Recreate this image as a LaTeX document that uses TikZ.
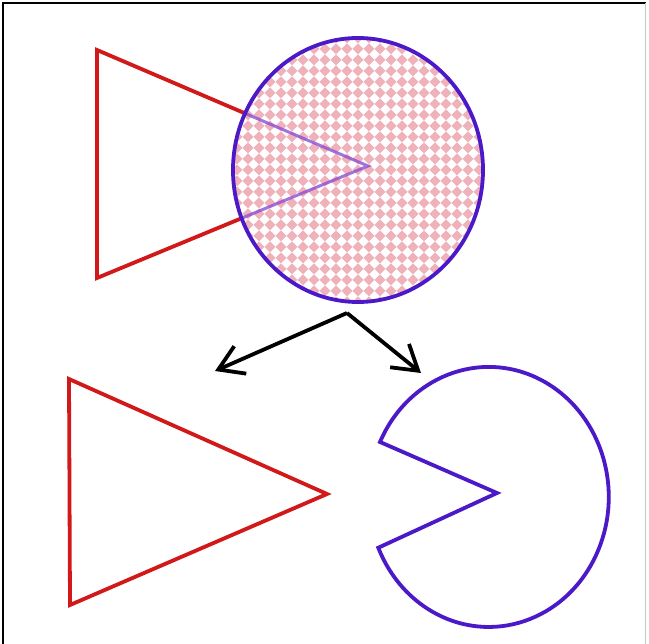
\documentclass[tikz,border=0pt]{standalone}
\usetikzlibrary{arrows.meta,calc}
\definecolor{tri}{RGB}{210,25,25}
\definecolor{circ}{RGB}{75,25,200}
\definecolor{inner}{RGB}{140,80,210}
\definecolor{pat}{RGB}{240,178,186}
\definecolor{framegray}{RGB}{200,200,200}
\tikzset{
  redtri/.style={draw=tri,line width=3.8pt,line join=miter},
  bluecirc/.style={draw=circ,line width=3.8pt,line join=miter},
  arrowline/.style={draw=black,line width=3.8pt,-{Straight Barb[length=24pt,width=30pt,line width=3.8pt]}}
}
\begin{document}
\begin{tikzpicture}[x=1pt,y=-1pt]
\useasboundingbox (0,0) rectangle (649,644);
\fill[white] (0,0) rectangle (649,644);
% frame
\draw[black,line width=2pt] (3,644) -- (3,3) -- (646,3);
\draw[framegray,line width=1pt] (645,3) -- (645,644);
% top triangle
\coordinate (ta) at (97,50);
\coordinate (tb) at (97,278);
\coordinate (tc) at (368,166);
\draw[redtri] (ta) -- (tc) -- (tb) -- cycle;
% patterned circle
\coordinate (cc) at (358,170);
\begin{scope}
  \clip (cc) ellipse [x radius=125, y radius=132];
  \fill[white] (cc) ellipse [x radius=125, y radius=132];
  \foreach \i in {-12,...,12}{
    \foreach \j in {-13,...,13}{
      \fill[pat] ($(cc)+(11*\i,11*\j)$) ++(5.5,0) -- ++(-5.5,5.5) -- ++(-5.5,-5.5) -- ++(5.5,-5.5) -- cycle;
    }
  }
  \draw[inner,line width=3pt,opacity=0.8] (ta) -- (tc) -- (tb);
\end{scope}
\draw[bluecirc] (cc) ellipse [x radius=125, y radius=132];
% arrows
\coordinate (as) at (347,313);
\coordinate (al) at (215,371);
\coordinate (ar) at (421,373);
\draw[arrowline] (as) -- (al);
\draw[arrowline] (as) -- (ar);
% bottom triangle
\coordinate (ba) at (69,379);
\coordinate (bb) at (70,605);
\coordinate (bc) at (327,494);
\draw[redtri] (ba) -- (bc) -- (bb) -- cycle;
% pacman
\coordinate (pm) at (497,493);
\draw[bluecirc] (pm) -- (380,442) arc [start angle=205, end angle=517, x radius=120, y radius=130] -- cycle;
\end{tikzpicture}
\end{document}
